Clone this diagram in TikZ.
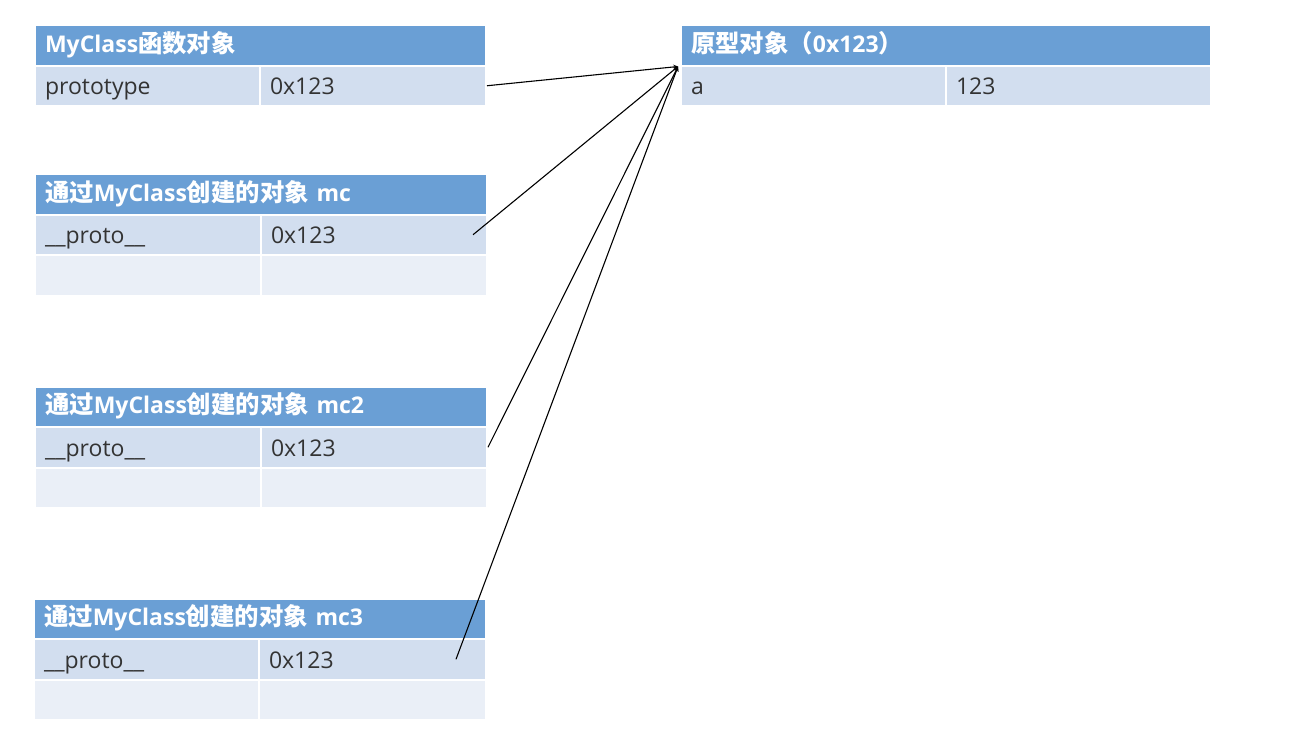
\documentclass[tikz,border=0pt]{standalone}
\usepackage{fontspec}
\setmainfont{Open Sans}
\newfontfamily\cjk[Scale=1.06]{Noto Sans CJK SC}
\usetikzlibrary{arrows}
\definecolor{headblue}{HTML}{6A9FD5}
\definecolor{rowdark}{HTML}{D2DEEF}
\definecolor{rowlight}{HTML}{EAEFF7}
\definecolor{celltext}{HTML}{333333}
\tikzstyle{head} = [fill=headblue, draw=white, line width=2pt, anchor=north west, minimum height=40.5pt, inner xsep=10pt, inner ysep=0pt, text height=18pt, text depth=4pt, text=white, font=\bfseries\fontsize{23}{26}\selectfont, align=left]
\tikzstyle{cell} = [fill=rowdark, draw=white, line width=2pt, anchor=north west, minimum height=40.5pt, inner xsep=10pt, inner ysep=0pt, text height=20pt, text depth=2pt, text=celltext, font=\fontsize{23}{26}\selectfont, align=left]
\tikzstyle{empty} = [cell, fill=rowlight]
\tikzstyle{arrow} = [line width=1.1pt,->,>=stealth]

\begin{document}
\begin{tikzpicture}[x=1pt, y=-1pt]
\useasboundingbox (0,0) rectangle (1298,744);

\node (myclass head) [head, text width=431pt] at (34,24) {MyClass{\cjk 函数对象}};
\node (myclass key) [cell, text width=205pt] at (34,64.5) {prototype};
\node (myclass value) [cell, text width=206pt] at (259,64.5) {0x123};

\node (proto head) [head, text width=510pt] at (680,24) {{\cjk 原型对象（}0x123{\cjk ）}};
\node (proto key) [cell, text width=245pt] at (680,64.5) {a};
\node (proto value) [cell, text width=245pt] at (945,64.5) {123};

\node (mc head) [head, text width=432pt] at (34,173) {{\cjk 通过}MyClass{\cjk 创建的对象} mc};
\node (mc key) [cell, text width=206pt] at (34,213.5) {\_\_proto\_\_};
\node (mc value) [cell, text width=206pt] at (260,213.5) {0x123};
\node (mc left) [empty, text width=206pt] at (34,254) {};
\node (mc right) [empty, text width=206pt] at (260,254) {};

\node (mc2 head) [head, text width=432pt] at (34,385.5) {{\cjk 通过}MyClass{\cjk 创建的对象} mc2};
\node (mc2 key) [cell, text width=206pt] at (34,426) {\_\_proto\_\_};
\node (mc2 value) [cell, text width=206pt] at (260,426) {0x123};
\node (mc2 left) [empty, text width=206pt] at (34,466.5) {};
\node (mc2 right) [empty, text width=206pt] at (260,466.5) {};

\node (mc3 head) [head, text width=432pt] at (33,597.5) {{\cjk 通过}MyClass{\cjk 创建的对象} mc3};
\node (mc3 key) [cell, text width=205pt] at (33,638) {\_\_proto\_\_};
\node (mc3 value) [cell, text width=207pt] at (258,638) {0x123};
\node (mc3 left) [empty, text width=205pt] at (33,678.5) {};
\node (mc3 right) [empty, text width=207pt] at (258,678.5) {};

\draw [arrow] (myclass value.east) -- ([xshift=-2pt]proto head.south west);
\draw [arrow] ([xshift=-15pt]mc value.east) -- ([xshift=-2pt]proto head.south west);
\draw [arrow] (mc2 value.east) -- ([xshift=-2pt]proto head.south west);
\draw [arrow] ([xshift=-31pt]mc3 value.east) -- ([xshift=-2pt]proto head.south west);

\end{tikzpicture}
\end{document}
